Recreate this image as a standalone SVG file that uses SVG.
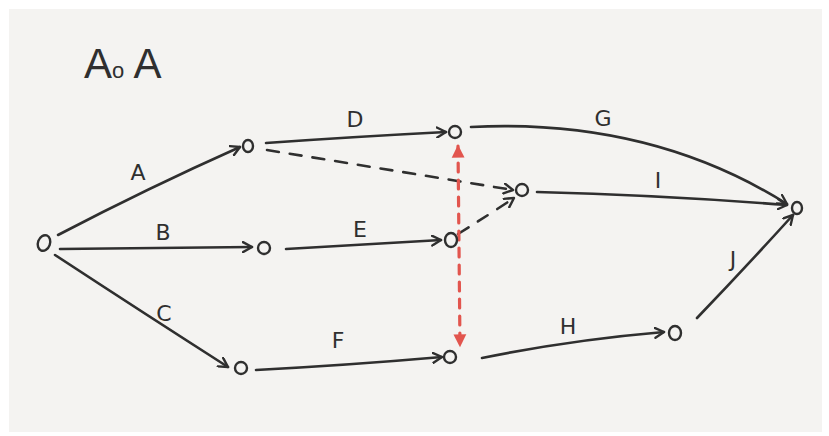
<svg xmlns="http://www.w3.org/2000/svg" width="829" height="436" viewBox="0 0 829 436">
  <defs>
    <style>
      .edge { fill: none; stroke: #2f2f2f; stroke-width: 2.6; stroke-linecap: round; }
      .dash { fill: none; stroke: #2f2f2f; stroke-width: 2.6; stroke-linecap: round; stroke-dasharray: 12 11; }
      .crit { fill: none; stroke: #e2554e; stroke-width: 3.2; stroke-linecap: round; stroke-dasharray: 9 8; }
      .node { fill: none; stroke: #2f2f2f; stroke-width: 2.4; }
      .lbl { font-family: "DejaVu Sans", "Liberation Sans", sans-serif; font-size: 22px; fill: #2f2f2f; text-anchor: middle; }
      .title { font-family: "Liberation Sans", "DejaVu Sans", sans-serif; font-size: 42px; fill: #2f2f2f; }
    </style>
    <marker id="arr" viewBox="0 0 12 12" refX="10" refY="6" markerWidth="12" markerHeight="12" markerUnits="userSpaceOnUse" orient="auto">
      <path d="M1,1 L10,6 L1,11" fill="none" stroke="#2f2f2f" stroke-width="2.4" stroke-linecap="round" stroke-linejoin="round"/>
    </marker>
    <marker id="arrRed" viewBox="0 0 12 12" refX="10" refY="6" markerWidth="14" markerHeight="14" markerUnits="userSpaceOnUse" orient="auto-start-reverse">
      <path d="M0,0.5 L11,6 L0,11.5 Z" fill="#e2554e"/>
    </marker>
  </defs>

  <!-- paper sheet -->
  <rect x="0" y="0" width="829" height="436" fill="#ffffff"/>
  <rect x="9" y="9" width="813" height="423" fill="#f4f3f1"/>

  <!-- title -->
  <text class="title" x="84" y="78">A<tspan font-size="22">o</tspan> A</text>

  <g id="connectors">
    <!-- activities -->
    <path id="edge-A" class="edge" d="M58,235 Q148,188 240,147" marker-end="url(#arr)"/>
    <path id="edge-B" class="edge" d="M60,249 L252,247" marker-end="url(#arr)"/>
    <path id="edge-C" class="edge" d="M55,255 Q145,314 228,367" marker-end="url(#arr)"/>
    <path id="edge-D" class="edge" d="M266,143 Q350,137 446,132" marker-end="url(#arr)"/>
    <path id="edge-E" class="edge" d="M286,249 Q360,245 441,240" marker-end="url(#arr)"/>
    <path id="edge-F" class="edge" d="M256,370 Q350,365 442,357" marker-end="url(#arr)"/>
    <path id="edge-G" class="edge" d="M471,127 Q650,118 787,204" marker-end="url(#arr)"/>
    <path id="edge-I" class="edge" d="M537,192 Q660,195 787,205" marker-end="url(#arr)"/>
    <path id="edge-H" class="edge" d="M482,358 Q570,340 664,332" marker-end="url(#arr)"/>
    <path id="edge-J" class="edge" d="M697,318 Q745,268 793,215" marker-end="url(#arr)"/>
    <!-- dummy activities -->
    <path id="dummy-1" class="dash" d="M267,150 Q390,170 513,190" marker-end="url(#arr)"/>
    <path id="dummy-2" class="dash" d="M458,234 Q490,214 514,198" marker-end="url(#arr)"/>
    <!-- float link between event columns -->
    <path id="float-link" class="crit" d="M458,146 L460,346" marker-start="url(#arrRed)" marker-end="url(#arrRed)"/>
  </g>

  <!-- events -->
  <g id="n0"><ellipse class="node" cx="44" cy="243" rx="6" ry="8" transform="rotate(20 44 243)"/></g>
  <g id="n1"><ellipse class="node" cx="248" cy="146" rx="5" ry="6"/></g>
  <g id="n2"><ellipse class="node" cx="264" cy="248" rx="6" ry="6"/></g>
  <g id="n3"><ellipse class="node" cx="241" cy="368" rx="6" ry="6"/></g>
  <g id="n4"><ellipse class="node" cx="455" cy="132" rx="6" ry="6"/></g>
  <g id="n5"><ellipse class="node" cx="522" cy="190" rx="6" ry="6"/></g>
  <g id="n6"><ellipse class="node" cx="451" cy="240" rx="6" ry="7"/></g>
  <g id="n7"><ellipse class="node" cx="450" cy="357" rx="6" ry="6"/></g>
  <g id="n8"><ellipse class="node" cx="675" cy="333" rx="6" ry="7"/></g>
  <g id="n9"><ellipse class="node" cx="797" cy="208" rx="5" ry="6"/></g>

  <!-- activity labels -->
  <g id="labels">
    <text class="lbl" x="138" y="180">A</text>
    <text class="lbl" x="163" y="240">B</text>
    <text class="lbl" x="164" y="321">C</text>
    <text class="lbl" x="355" y="127">D</text>
    <text class="lbl" x="360" y="237">E</text>
    <text class="lbl" x="338" y="348">F</text>
    <text class="lbl" x="603" y="126">G</text>
    <text class="lbl" x="568" y="334">H</text>
    <text class="lbl" x="658" y="188">I</text>
    <text class="lbl" x="733" y="267">J</text>
  </g>
</svg>
